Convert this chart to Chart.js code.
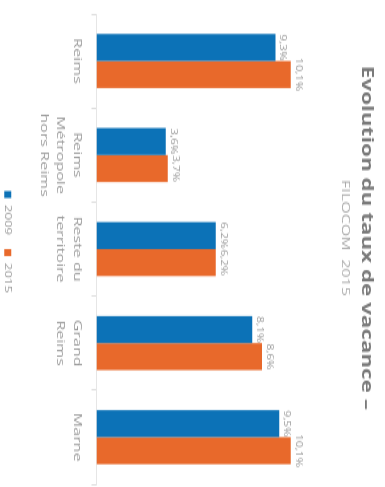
<!DOCTYPE html>
<html>
<head>
<meta charset="utf-8">
<script src="https://cdn.jsdelivr.net/npm/chart.js@4/dist/chart.umd.min.js"></script>
<style>
  html, body { margin: 0; padding: 0; background: #fff; overflow: hidden; width: 385px; height: 487px; }
  #wrap { position: absolute; left: 0; top: 0; width: 348px; height: 385px;
          transform-origin: 0 0; transform: translate(385px, 0) rotate(90deg) scaleX(1.3994); }
  canvas { display: block; }
</style>
</head>
<body>
<div id="wrap"><canvas id="c" width="348" height="385"></canvas></div>
<script>
const categories = [["Reims"], ["Reims", "Métropole", "hors Reims"], ["Reste du", "territoire"], ["Grand", "Reims"], ["Marne"]];
const seriesNames = ["2009", "2015"];
const values2009 = [9.3, 3.6, 6.2, 8.1, 9.5];
const values2015 = [10.1, 3.7, 6.2, 8.6, 10.1];
const colors = ["#0c72b7", "#e8692b"];

const FONT = "'Open Sans', 'DejaVu Sans', sans-serif";

const valueLabels = {
  id: 'valueLabels',
  afterDatasetsDraw(chart) {
    const ctx = chart.ctx;
    ctx.save();
    ctx.font = "8.5px " + FONT;
    ctx.fillStyle = "#9a9a9a";
    ctx.textAlign = "center";
    ctx.textBaseline = "bottom";
    chart.data.datasets.forEach((ds, i) => {
      const meta = chart.getDatasetMeta(i);
      meta.data.forEach((el, j) => {
        const txt = ds.data[j].toFixed(1).replace('.', ',') + '%';
        ctx.fillText(txt, el.x, el.y - 3);
      });
    });
    ctx.restore();
  }
};

// shift the header / legend boxes slightly left of the canvas centre, as in the reference
const headerShift = {
  id: 'headerShift',
  afterLayout(chart) {
    chart.boxes.forEach(b => {
      if (b.options && typeof b.options.text === 'string') { b.left -= 8; b.right -= 8; }
    });
    if (chart.legend) { chart.legend.left -= 5; chart.legend.right -= 5; }
  }
};

new Chart(document.getElementById('c'), {
  type: 'bar',
  data: {
    labels: categories,
    datasets: [
      { label: seriesNames[0], data: values2009, backgroundColor: colors[0], categoryPercentage: 0.575, barPercentage: 1.0 },
      { label: seriesNames[1], data: values2015, backgroundColor: colors[1], categoryPercentage: 0.575, barPercentage: 1.0 }
    ]
  },
  options: {
    responsive: false,
    animation: false,
    devicePixelRatio: 1,
    layout: { padding: { left: 10, right: 2, top: 0, bottom: -7 } },
    plugins: {
      title: {
        display: true,
        text: "Evolution du taux de vacance –",
        color: "#7a7a7a",
        font: { family: FONT, size: 16, weight: 'bold', lineHeight: 1.2 },
        padding: { top: 8.4, bottom: 2 }
      },
      subtitle: {
        display: true,
        text: "FILOCOM  2015",
        color: "#aaa",
        font: { family: FONT, size: 11.5, lineHeight: 1.2 },
        padding: { top: 3.5, bottom: 10.7 }
      },
      legend: {
        position: 'bottom',
        labels: {
          color: "#999",
          font: { family: FONT, size: 9.5 },
          boxWidth: 5,
          boxHeight: 7,
          padding: 10
        }
      },
      tooltip: { enabled: false }
    },
    scales: {
      x: {
        grid: { display: true, drawOnChartArea: false, tickLength: 5, color: "#ddd" },
        border: { color: "#e6e6e6" },
        ticks: { color: "#999", font: { family: FONT, size: 11.5, lineHeight: 1.435 }, padding: 6, maxRotation: 0, autoSkip: false },
        afterFit(scale) { scale.height = 74; }
      },
      y: {
        display: false,
        min: 0,
        max: 12
      }
    }
  },
  plugins: [valueLabels, headerShift]
});
</script>
</body>
</html>
